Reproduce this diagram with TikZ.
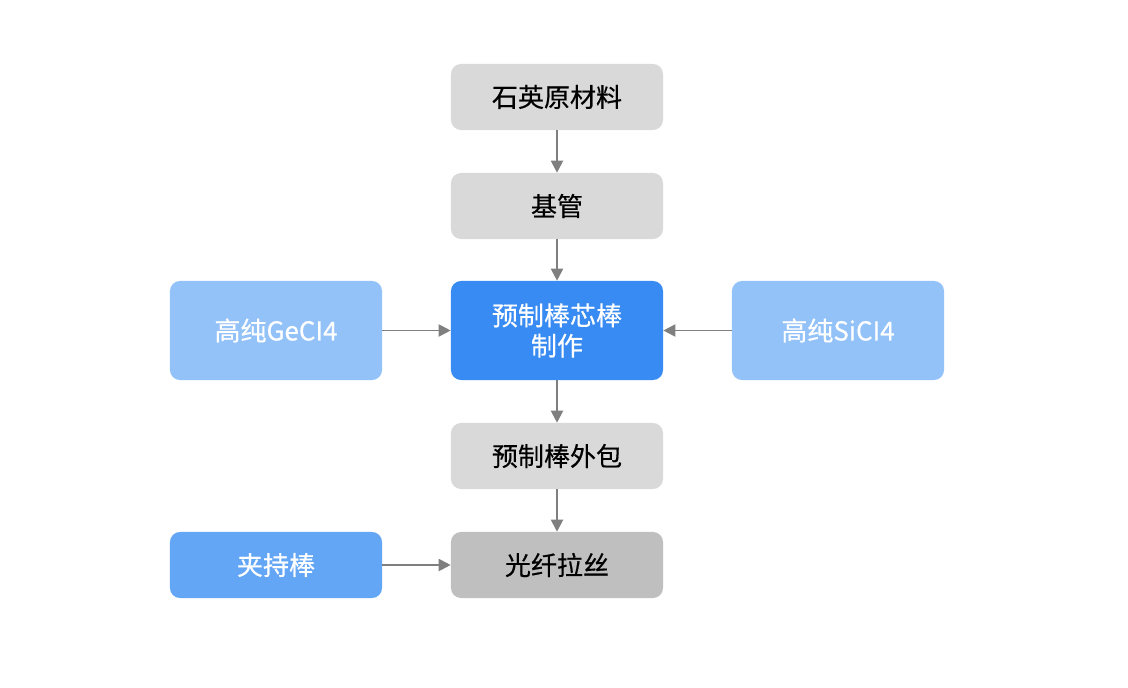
\documentclass[tikz,border=0pt]{standalone}
\usepackage{fontspec}
\setmainfont{Noto Sans CJK SC}[FakeBold=0.5]
\usepackage{tikz}
\usetikzlibrary{positioning, arrows.meta}

\definecolor{grayA}{HTML}{D9D9D9}
\definecolor{grayB}{HTML}{BFBFBF}
\definecolor{blueA}{HTML}{388BF2}
\definecolor{blueB}{HTML}{93C2F8}
\definecolor{blueC}{HTML}{63A6F5}
\definecolor{lineC}{HTML}{7F7F7F}

\begin{document}
\begin{tikzpicture}[x=0.025cm, y=-0.025cm,
        every node/.style={rectangle, rounded corners=0.25cm, minimum width=5.3cm,
            minimum height=1.65cm, font=\fontsize{18.5}{21.5}\selectfont, align=center, inner sep=0pt},
        stepbox/.style={fill=grayA, text=black},
        bigbox/.style={minimum height=2.475cm, text=white},
        flow/.style={draw=lineC, line width=1.4pt, -{Triangle[length=0.3cm, width=0.3cm]}}]
        \useasboundingbox (0,0) rectangle (1128,688);
        % main column
        \node[stepbox] (quartz) at (557, 97) {石英原材料};
        \node[stepbox] (tube) at (557, 206) {基管};
        \node[bigbox, fill=blueA] (core) at (557, 330.5) {预制棒芯棒\\制作};
        \node[stepbox] (clad) at (557, 456) {预制棒外包};
        \node[stepbox, fill=grayB] (draw) at (557, 565) {光纤拉丝};
        
        % side inputs
        \node[bigbox, fill=blueB] (ge) at (276, 330.5) {高纯GeCI4};
        \node[bigbox, fill=blueB] (si) at (838, 330.5) {高纯SiCI4};
        \node[fill=blueC, text=white] (clamp) at (276, 565) {夹持棒};
        
        \draw[flow] (quartz) -- (tube);
        \draw[flow] (tube) -- (core);
        \draw[flow] (core) -- (clad);
        \draw[flow] (clad) -- (draw);
        \draw[flow] (ge) -- (core);
        \draw[flow] (si) -- (core);
        \draw[flow] (clamp) -- (draw);
    \end{tikzpicture}
\end{document}
